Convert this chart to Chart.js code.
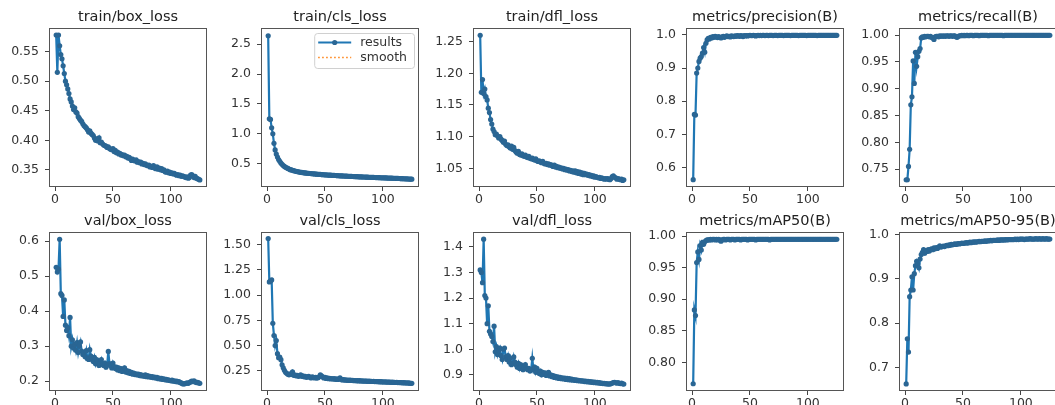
<!DOCTYPE html>
<html>
<head>
<meta charset="utf-8">
<script src="https://cdn.jsdelivr.net/npm/chart.js@4.4.1/dist/chart.umd.min.js"></script>
<style>
html, body { margin: 0; padding: 0; background: #fff; width: 1055px; height: 405px; overflow: hidden; }
.cell { position: absolute; }
</style>
</head>
<body>
<script>
// epochs on the x axis
const epochs = Array.from({length: 125}, (_, i) => i + 1);
const xTicks = [0, 50, 100];

const trainBoxLoss = [
  0.578,0.515,0.578,0.560,0.545,0.538,0.526,0.513,0.500,0.494,
  0.487,0.479,0.470,0.465,0.458,0.452,0.455,0.448,0.446,0.440,
  0.437,0.434,0.432,0.428,0.425,0.423,0.421,0.418,0.414,0.416,
  0.412,0.410,0.408,0.404,0.400,0.402,0.399,0.404,0.396,0.397,
  0.394,0.392,0.391,0.390,0.388,0.389,0.386,0.385,0.384,0.386,
  0.381,0.383,0.379,0.380,0.377,0.378,0.375,0.376,0.374,0.375,
  0.372,0.373,0.370,0.371,0.369,0.366,0.368,0.366,0.365,0.367,
  0.363,0.364,0.362,0.363,0.360,0.361,0.359,0.360,0.358,0.357,
  0.358,0.355,0.356,0.354,0.357,0.353,0.352,0.355,0.351,0.353,
  0.350,0.352,0.349,0.350,0.347,0.346,0.348,0.345,0.346,0.344,
  0.345,0.343,0.344,0.342,0.341,0.342,0.340,0.341,0.339,0.340,
  0.339,0.338,0.337,0.338,0.336,0.337,0.341,0.342,0.340,0.337,
  0.339,0.336,0.335,0.334,0.333
];
const trainClsLoss = [
  2.64,1.25,1.24,1.10,1.00,0.84,0.73,0.66,0.61,0.57,
  0.54,0.51,0.49,0.47,0.455,0.44,0.43,0.42,0.41,0.40,
  0.395,0.39,0.383,0.378,0.372,0.368,0.364,0.36,0.356,0.353,
  0.35,0.347,0.345,0.342,0.34,0.338,0.336,0.334,0.332,0.33,
  0.328,0.326,0.325,0.323,0.321,0.32,0.318,0.317,0.315,0.314,
  0.312,0.311,0.31,0.308,0.307,0.306,0.304,0.303,0.302,0.301,
  0.3,0.298,0.297,0.296,0.295,0.294,0.293,0.292,0.291,0.29,
  0.289,0.288,0.287,0.286,0.285,0.284,0.283,0.282,0.281,0.28,
  0.279,0.278,0.277,0.277,0.276,0.275,0.274,0.273,0.272,0.272,
  0.271,0.27,0.269,0.268,0.268,0.267,0.266,0.265,0.264,0.264,
  0.263,0.262,0.261,0.26,0.26,0.259,0.258,0.257,0.256,0.256,
  0.255,0.254,0.253,0.252,0.251,0.25,0.249,0.248,0.247,0.246,
  0.245,0.244,0.243,0.242,0.241
];
const trainDflLoss = [
  1.260,1.170,1.190,1.168,1.175,1.163,1.158,1.145,1.138,1.127,
  1.120,1.112,1.108,1.103,1.104,1.101,1.098,1.100,1.096,1.094,
  1.091,1.093,1.088,1.086,1.087,1.084,1.082,1.085,1.080,1.083,
  1.078,1.076,1.074,1.077,1.072,1.071,1.073,1.070,1.069,1.071,
  1.068,1.067,1.069,1.066,1.065,1.066,1.064,1.063,1.065,1.062,
  1.061,1.062,1.060,1.059,1.061,1.058,1.057,1.058,1.056,1.057,
  1.055,1.056,1.054,1.053,1.055,1.052,1.053,1.051,1.052,1.050,
  1.051,1.049,1.050,1.048,1.049,1.047,1.048,1.046,1.047,1.045,
  1.046,1.044,1.046,1.043,1.045,1.042,1.044,1.041,1.043,1.040,
  1.042,1.040,1.041,1.039,1.040,1.038,1.039,1.037,1.038,1.036,
  1.037,1.036,1.035,1.036,1.034,1.035,1.034,1.033,1.034,1.033,
  1.034,1.033,1.032,1.034,1.037,1.038,1.036,1.035,1.033,1.034,
  1.033,1.032,1.033,1.031,1.032
];
const precision = [
  0.563,0.760,0.758,0.885,0.900,0.920,0.930,0.935,0.945,0.962,
  0.948,0.975,0.985,0.990,0.988,0.993,0.991,0.995,0.993,0.996,
  0.994,0.992,0.995,0.993,0.991,0.994,0.996,0.993,0.995,0.997,
  0.995,0.996,0.994,0.997,0.996,0.995,0.997,0.996,0.998,0.997,
  0.996,0.998,0.997,0.995,0.998,0.997,0.998,0.997,0.998,0.999,
  0.998,0.998,0.999,0.998,0.997,0.998,0.999,0.998,0.999,0.998,
  0.999,0.999,0.998,0.999,0.999,0.998,0.999,0.999,0.999,0.998,
  0.999,0.999,0.999,0.998,0.999,0.999,0.999,0.999,0.998,0.999,
  0.999,0.999,0.999,0.999,0.998,0.999,0.999,0.999,0.999,0.999,
  0.999,0.998,0.999,0.999,0.999,0.999,0.999,0.999,0.998,0.999,
  0.999,0.999,0.999,0.999,0.999,0.999,0.999,0.998,0.999,0.999,
  0.999,0.999,0.999,0.999,0.999,0.999,0.999,0.999,0.999,0.999,
  0.999,0.999,0.999,0.999,0.999
];
const recall = [
  0.730,0.730,0.755,0.787,0.870,0.885,0.952,0.910,0.968,0.942,
  0.960,0.970,0.975,0.995,0.997,0.996,0.998,0.997,0.998,0.998,
  0.997,0.998,0.996,0.995,0.992,0.997,0.998,0.998,0.997,0.999,
  0.998,0.999,0.998,0.999,0.998,0.999,0.999,0.998,0.999,0.999,
  0.998,0.999,0.999,0.997,0.996,0.998,0.999,0.999,1.000,0.999,
  1.000,0.999,1.000,1.000,0.999,1.000,1.000,1.000,0.999,1.000,
  1.000,1.000,1.000,0.999,1.000,1.000,1.000,1.000,1.000,1.000,
  1.000,0.999,1.000,1.000,1.000,1.000,1.000,1.000,1.000,1.000,
  1.000,1.000,1.000,1.000,0.999,1.000,1.000,1.000,1.000,1.000,
  1.000,1.000,1.000,1.000,1.000,1.000,1.000,1.000,1.000,1.000,
  1.000,1.000,1.000,1.000,1.000,1.000,1.000,1.000,1.000,1.000,
  1.000,1.000,1.000,1.000,1.000,1.000,1.000,1.000,1.000,1.000,
  1.000,1.000,1.000,1.000,1.000
];
const valBoxLoss = [
  0.525,0.512,0.520,0.605,0.450,0.445,0.385,0.432,0.360,0.345,
  0.352,0.330,0.382,0.300,0.318,0.295,0.305,0.288,0.310,0.282,
  0.300,0.312,0.286,0.276,0.282,0.270,0.287,0.265,0.262,0.290,
  0.272,0.262,0.256,0.268,0.250,0.262,0.255,0.245,0.252,0.262,
  0.248,0.245,0.252,0.240,0.246,0.285,0.250,0.244,0.238,0.252,
  0.242,0.236,0.240,0.232,0.238,0.230,0.236,0.228,0.232,0.238,
  0.226,0.230,0.224,0.228,0.222,0.225,0.220,0.223,0.219,0.221,
  0.218,0.220,0.216,0.219,0.215,0.217,0.214,0.218,0.213,0.216,
  0.212,0.214,0.211,0.213,0.210,0.212,0.209,0.211,0.207,0.209,
  0.206,0.208,0.205,0.207,0.204,0.205,0.203,0.204,0.202,0.201,
  0.203,0.200,0.201,0.199,0.200,0.198,0.199,0.196,0.195,0.193,
  0.192,0.193,0.194,0.195,0.194,0.196,0.198,0.200,0.199,0.201,
  0.198,0.196,0.197,0.195,0.194
];
const valClsLoss = [
  1.56,1.13,1.14,1.15,0.72,0.60,0.50,0.55,0.42,0.38,
  0.385,0.36,0.31,0.28,0.255,0.235,0.225,0.215,0.21,0.22,
  0.215,0.24,0.205,0.21,0.20,0.205,0.195,0.20,0.21,0.195,
  0.20,0.19,0.195,0.185,0.19,0.195,0.185,0.18,0.19,0.185,
  0.18,0.185,0.178,0.182,0.19,0.21,0.20,0.19,0.18,0.185,
  0.175,0.18,0.172,0.176,0.17,0.174,0.168,0.172,0.166,0.17,
  0.165,0.168,0.18,0.163,0.16,0.162,0.158,0.16,0.156,0.158,
  0.155,0.157,0.154,0.155,0.152,0.154,0.151,0.153,0.15,0.152,
  0.149,0.15,0.148,0.149,0.147,0.148,0.146,0.147,0.145,0.146,
  0.144,0.145,0.143,0.144,0.142,0.143,0.141,0.142,0.14,0.141,
  0.139,0.14,0.138,0.139,0.137,0.138,0.136,0.137,0.135,0.136,
  0.134,0.135,0.133,0.134,0.132,0.133,0.131,0.132,0.13,0.131,
  0.129,0.13,0.128,0.127,0.126
];
const valDflLoss = [
  1.31,1.30,1.26,1.43,1.21,1.20,1.10,1.17,1.07,1.06,
  1.05,1.03,1.09,0.99,1.01,0.98,0.995,1.005,0.975,0.96,
  1.00,1.005,0.97,0.96,0.975,0.95,0.965,0.94,0.945,0.97,
  0.95,0.94,0.93,0.945,0.925,0.94,0.93,0.92,0.93,0.94,
  0.925,0.92,0.925,0.915,0.92,0.965,0.92,0.93,0.91,0.925,
  0.912,0.905,0.915,0.90,0.91,0.902,0.908,0.898,0.904,0.91,
  0.896,0.90,0.893,0.897,0.89,0.894,0.888,0.892,0.886,0.89,
  0.885,0.888,0.884,0.887,0.882,0.886,0.881,0.885,0.88,0.883,
  0.879,0.882,0.878,0.881,0.877,0.879,0.876,0.878,0.875,0.877,
  0.874,0.876,0.873,0.875,0.872,0.874,0.871,0.873,0.87,0.872,
  0.869,0.871,0.868,0.87,0.867,0.868,0.866,0.867,0.865,0.866,
  0.864,0.865,0.864,0.866,0.868,0.87,0.871,0.869,0.868,0.87,
  0.867,0.866,0.868,0.865,0.864
];
const mAP50 = [
  0.766,0.883,0.874,0.958,0.975,0.963,0.985,0.978,0.990,0.987,
  0.991,0.993,0.994,0.994,0.994,0.995,0.994,0.995,0.995,0.994,
  0.995,0.994,0.995,0.994,0.992,0.994,0.995,0.995,0.994,0.995,
  0.995,0.995,0.994,0.995,0.995,0.995,0.994,0.995,0.995,0.995,
  0.995,0.994,0.995,0.995,0.995,0.995,0.995,0.994,0.995,0.995,
  0.995,0.995,0.995,0.995,0.994,0.995,0.995,0.995,0.995,0.995,
  0.995,0.995,0.995,0.995,0.995,0.995,0.994,0.995,0.995,0.995,
  0.995,0.995,0.995,0.995,0.995,0.995,0.995,0.995,0.995,0.995,
  0.995,0.995,0.995,0.995,0.995,0.995,0.995,0.995,0.995,0.995,
  0.995,0.995,0.995,0.995,0.995,0.995,0.995,0.995,0.995,0.995,
  0.995,0.995,0.995,0.995,0.995,0.995,0.995,0.995,0.995,0.995,
  0.995,0.995,0.995,0.995,0.995,0.995,0.995,0.995,0.995,0.995,
  0.995,0.995,0.995,0.995,0.995
];
const mAP5095 = [
  0.663,0.765,0.735,0.860,0.875,0.905,0.875,0.912,0.930,0.940,
  0.934,0.925,0.945,0.955,0.960,0.966,0.958,0.964,0.962,0.966,
  0.963,0.967,0.968,0.966,0.970,0.968,0.971,0.969,0.972,0.975,
  0.972,0.973,0.974,0.973,0.975,0.976,0.975,0.977,0.976,0.978,
  0.977,0.978,0.979,0.978,0.979,0.980,0.979,0.980,0.981,0.980,
  0.981,0.981,0.982,0.981,0.982,0.983,0.982,0.983,0.983,0.984,
  0.983,0.984,0.984,0.985,0.984,0.985,0.985,0.985,0.986,0.985,
  0.986,0.986,0.986,0.987,0.986,0.987,0.987,0.987,0.987,0.988,
  0.987,0.988,0.988,0.988,0.988,0.988,0.989,0.988,0.989,0.989,
  0.989,0.989,0.989,0.989,0.990,0.989,0.990,0.989,0.990,0.990,
  0.990,0.990,0.989,0.990,0.990,0.990,0.990,0.991,0.990,0.990,
  0.990,0.990,0.991,0.990,0.990,0.991,0.990,0.990,0.991,0.990,
  0.990,0.991,0.990,0.990,0.990
];

const legendLabels = ['results', 'smooth'];

// one entry per subplot: title, series, y limits, y tick labels
const panels = [
  {title: 'train/box_loss', data: trainBoxLoss, min: 0.321, max: 0.590, ticks: [0.35, 0.40, 0.45, 0.50, 0.55], dec: 2},
  {title: 'train/cls_loss', data: trainClsLoss, min: 0.11, max: 2.77, ticks: [0.5, 1.0, 1.5, 2.0, 2.5], dec: 1, legend: true},
  {title: 'train/dfl_loss', data: trainDflLoss, min: 1.0206, max: 1.2714, ticks: [1.05, 1.10, 1.15, 1.20, 1.25], dec: 2},
  {title: 'metrics/precision(B)', data: precision, min: 0.541, max: 1.021, ticks: [0.6, 0.7, 0.8, 0.9, 1.0], dec: 1},
  {title: 'metrics/recall(B)', data: recall, min: 0.7165, max: 1.0135, ticks: [0.75, 0.80, 0.85, 0.90, 0.95, 1.00], dec: 2},
  {title: 'val/box_loss', data: valBoxLoss, min: 0.172, max: 0.626, ticks: [0.2, 0.3, 0.4, 0.5, 0.6], dec: 1},
  {title: 'val/cls_loss', data: valClsLoss, min: 0.05, max: 1.625, ticks: [0.25, 0.50, 0.75, 1.00, 1.25, 1.50], dec: 2},
  {title: 'val/dfl_loss', data: valDflLoss, min: 0.837, max: 1.458, ticks: [0.9, 1.0, 1.1, 1.2, 1.3, 1.4], dec: 1},
  {title: 'metrics/mAP50(B)', data: mAP50, min: 0.7545, max: 1.0065, ticks: [0.80, 0.85, 0.90, 0.95, 1.00], dec: 2},
  {title: 'metrics/mAP50-95(B)', data: mAP5095, min: 0.647, max: 1.006, ticks: [0.7, 0.8, 0.9, 1.0], dec: 1}
];

// layout of the grid (plot area pixels)
const colLeft = [49, 261, 473, 686, 899];
const rowTop = [28, 232];
const plotW = 159, plotH = 159;
const AXIS_W = 46, TITLE_H = 18, XAXIS_H = 20, PAD_R = 3;
const FONT = 'DejaVu Sans';
const BLUE = '#1f77b4';
const DOT = '#2a6694';

const framePlugin = {
  id: 'frame',
  afterDatasetsDraw(chart) {
    const {ctx, chartArea: a} = chart;
    ctx.save();
    ctx.strokeStyle = '#555';
    ctx.lineWidth = 1;
    ctx.strokeRect(Math.round(a.left) + 0.5, Math.round(a.top) + 0.5, Math.round(a.width) - 1, Math.round(a.height) - 1);
    ctx.restore();
  }
};

const legendPlugin = {
  id: 'mplLegend',
  afterDraw(chart, args, opts) {
    if (!opts.show) return;
    const {ctx, chartArea: a} = chart;
    ctx.save();
    ctx.font = '12.5px "' + FONT + '"';
    const textW = Math.max(...legendLabels.map(t => ctx.measureText(t).width));
    const handle = 33, gap = 9, padL = 4, padR = 7;
    const w = padL + handle + gap + textW + padR, h = 35;
    const x0 = a.right - 5 - w, y0 = a.top + 5;
    ctx.beginPath();
    ctx.roundRect(x0 + 0.5, y0 + 0.5, w, h, 3);
    ctx.fillStyle = 'rgba(255,255,255,0.8)';
    ctx.fill();
    ctx.strokeStyle = '#d0d0d0';
    ctx.lineWidth = 1;
    ctx.stroke();
    const rows = [y0 + 9.5, y0 + 24.5];
    // results: solid line with marker
    ctx.strokeStyle = BLUE;
    ctx.lineWidth = 2;
    ctx.beginPath();
    ctx.moveTo(x0 + padL, rows[0]);
    ctx.lineTo(x0 + padL + handle, rows[0]);
    ctx.stroke();
    ctx.fillStyle = DOT;
    ctx.beginPath();
    ctx.arc(x0 + padL + handle / 2, rows[0], 2.6, 0, Math.PI * 2);
    ctx.fill();
    // smooth: dotted orange line
    ctx.strokeStyle = '#ff7f0e';
    ctx.lineWidth = 1.5;
    ctx.setLineDash([1.5, 2.5]);
    ctx.beginPath();
    ctx.moveTo(x0 + padL, rows[1]);
    ctx.lineTo(x0 + padL + handle, rows[1]);
    ctx.stroke();
    ctx.setLineDash([]);
    ctx.fillStyle = '#333';
    ctx.textBaseline = 'middle';
    legendLabels.forEach((t, i) => ctx.fillText(t, x0 + padL + handle + gap, rows[i] + 0.5));
    ctx.restore();
  }
};

panels.forEach((p, i) => {
  const col = i % 5, row = Math.floor(i / 5);
  const div = document.createElement('div');
  div.className = 'cell';
  const w = AXIS_W + plotW + PAD_R, h = TITLE_H + plotH + XAXIS_H;
  div.style.left = (colLeft[col] - AXIS_W) + 'px';
  div.style.top = (rowTop[row] - TITLE_H) + 'px';
  div.style.width = w + 'px';
  div.style.height = h + 'px';
  const canvas = document.createElement('canvas');
  canvas.width = w;
  canvas.height = h;
  div.appendChild(canvas);
  document.body.appendChild(div);

  new Chart(canvas.getContext('2d'), {
    type: 'line',
    data: {
      labels: epochs,
      datasets: [{
        label: 'results',
        data: p.data,
        borderColor: BLUE,
        borderWidth: 2.2,
        pointRadius: 2.6,
        pointBackgroundColor: DOT,
        pointBorderColor: DOT,
        pointBorderWidth: 0,
        tension: 0,
        fill: false
      }]
    },
    options: {
      responsive: false,
      animation: false,
      events: [],
      layout: {padding: {left: 0, top: 0, right: PAD_R, bottom: 0}},
      plugins: {
        legend: {display: false},
        tooltip: {enabled: false},
        title: {
          display: true,
          fullSize: false,
          text: p.title,
          color: '#222',
          font: {family: FONT, size: 14.5, weight: 'normal', lineHeight: 1},
          padding: {top: 0, bottom: TITLE_H - 14.5}
        },
        mplLegend: {show: !!p.legend}
      },
      scales: {
        x: {
          type: 'linear',
          min: -5.2,
          max: 131.2,
          afterBuildTicks: s => { s.ticks = xTicks.map(v => ({value: v})); },
          afterFit: s => { s.height = XAXIS_H; },
          border: {display: false},
          grid: {display: true, drawOnChartArea: false, drawTicks: true, tickLength: 4, color: '#444'},
          ticks: {color: '#333', padding: 1, maxRotation: 0, font: {family: FONT, size: 12.5}}
        },
        y: {
          min: p.min,
          max: p.max,
          afterBuildTicks: s => { s.ticks = p.ticks.map(v => ({value: v})); },
          afterFit: s => { s.width = AXIS_W; },
          border: {display: false},
          grid: {display: true, drawOnChartArea: false, drawTicks: true, tickLength: 4, color: '#444'},
          ticks: {
            color: '#333',
            padding: 6,
            font: {family: FONT, size: 12.5},
            callback: v => Number(v).toFixed(p.dec)
          }
        }
      }
    },
    plugins: [framePlugin, legendPlugin]
  });
});
</script>
</body>
</html>
